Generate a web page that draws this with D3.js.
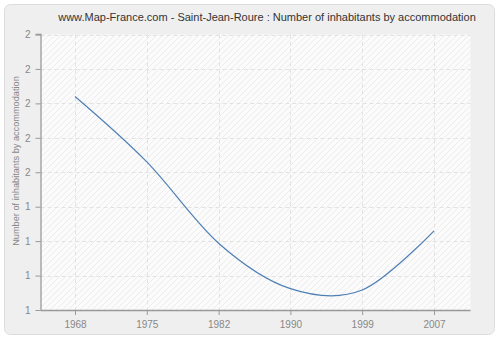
<!DOCTYPE html>
<html>
<head>
<meta charset="utf-8">
<script src="https://cdn.jsdelivr.net/npm/d3@7"></script>
<style>
  body { margin: 0; background: #fff; }
  svg { display: block; font-family: "Liberation Sans", Arial, sans-serif; }
</style>
</head>
<body>
<svg id="chart" width="500" height="340"></svg>
<script>
var years = ["1968", "1975", "1982", "1990", "1999", "2007"];
var inhabitants = [1.72, 1.53, 1.294, 1.162, 1.158, 1.33];
var yTicks = [1.1, 1.2, 1.3, 1.4, 1.5, 1.6, 1.7, 1.8, 1.9];
var yTickLabels = ["1", "1", "1", "1", "2", "2", "2", "2", "2"];

var W = 500, H = 340;
var m = {left: 40.5, right: 29.5, top: 34.5, bottom: 30};
var svg = d3.select("#chart");

// outer panel
svg.append("rect")
  .attr("x", 4.5).attr("y", 4.5)
  .attr("width", W - 10).attr("height", H - 10)
  .attr("rx", 6)
  .attr("fill", "#efefef")
  .attr("stroke", "#dcdcdc");

// hatch pattern for the plot area
var defs = svg.append("defs");
var pat = defs.append("pattern")
  .attr("id", "hatch")
  .attr("patternUnits", "userSpaceOnUse")
  .attr("width", 6).attr("height", 6);
pat.append("rect").attr("width", 6).attr("height", 6).attr("fill", "#fbfbfb");
pat.append("path")
  .attr("d", "M0,6 L6,0 M-1,1 L1,-1 M5,7 L7,5")
  .attr("stroke", "#ececec").attr("stroke-width", 1);

var x = d3.scalePoint()
  .domain(years)
  .range([m.left + 34.5, W - m.right - 36.5]);
var y = d3.scaleLinear()
  .domain([1.1, 1.9])
  .range([H - m.bottom, m.top]);

svg.append("rect")
  .attr("x", m.left).attr("y", m.top)
  .attr("width", W - m.left - m.right)
  .attr("height", H - m.top - m.bottom)
  .attr("fill", "url(#hatch)");

// grid
var grid = svg.append("g");
grid.selectAll(".hg").data(yTicks.slice(1)).enter().append("line")
  .attr("x1", m.left).attr("x2", W - m.right)
  .attr("y1", function(d) { return Math.round(y(d)) + 0.5; })
  .attr("y2", function(d) { return Math.round(y(d)) + 0.5; })
  .attr("stroke", "#e2e2e2").attr("stroke-dasharray", "4,3");
grid.selectAll(".vg").data(years).enter().append("line")
  .attr("x1", function(d) { return Math.round(x(d)) + 0.5; })
  .attr("x2", function(d) { return Math.round(x(d)) + 0.5; })
  .attr("y1", m.top).attr("y2", H - m.bottom)
  .attr("stroke", "#e2e2e2").attr("stroke-dasharray", "4,3");

// axes
var xAxis = d3.axisBottom(x).tickSize(5).tickPadding(6);
var gx = svg.append("g")
  .attr("transform", "translate(0," + (H - m.bottom) + ")")
  .call(xAxis);
gx.select(".domain").attr("d", "M" + m.left + ",0.5H" + (W - m.right));

var yAxis = d3.axisLeft(y)
  .tickValues(yTicks)
  .tickSize(5).tickPadding(5)
  .tickFormat(function(d, i) { return yTickLabels[i]; });
var gy = svg.append("g")
  .attr("transform", "translate(" + m.left + ",0)")
  .call(yAxis);
gy.select(".domain").attr("d", "M-5," + m.top + "H0.5V" + (H - m.bottom));

svg.selectAll(".domain").attr("stroke", "#999").attr("stroke-width", 1.3);
svg.selectAll(".tick line").attr("stroke", "#999");
svg.selectAll(".tick text").attr("fill", "#888").attr("font-size", 10)
  .attr("font-family", "Liberation Sans, Arial, sans-serif");

// y axis title
svg.append("text")
  .attr("transform", "translate(19,161) rotate(-90)")
  .attr("text-anchor", "middle")
  .attr("fill", "#888").attr("font-size", 9.2)
  .text("Number of inhabitants by accommodation");

// title
svg.append("text")
  .attr("x", 267).attr("y", 21)
  .attr("text-anchor", "middle")
  .attr("fill", "#333").attr("font-size", 11)
  .text("www.Map-France.com - Saint-Jean-Roure : Number of inhabitants by accommodation");

// line
var line = d3.line()
  .x(function(d, i) { return x(years[i]); })
  .y(function(d) { return y(d); })
  .curve(d3.curveCardinal);
svg.append("path")
  .datum(inhabitants)
  .attr("d", line)
  .attr("fill", "none")
  .attr("stroke", "#4f7fb5")
  .attr("stroke-width", 1.2);
</script>
</body>
</html>
